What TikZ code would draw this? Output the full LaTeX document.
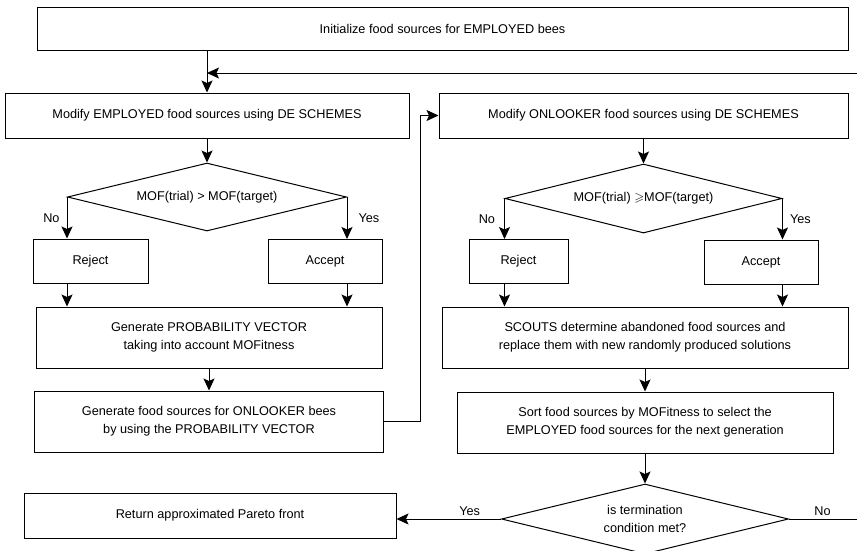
\documentclass[tikz,border=0pt]{standalone}
\usepackage{amssymb}
\usepackage{fontspec}
\setmainfont{Liberation Sans}
\usetikzlibrary{
    arrows.meta,
    positioning,
    shapes.geometric
}
\tikzset{
    procbox/.style  = {rectangle, draw=black, line width=1pt, align=center,
                       inner sep=2pt},
    decbox/.style   = {diamond, draw=black, line width=1pt, align=center,
                       aspect=4, inner sep=0pt},
    arrow/.style    = {-{Stealth[length=12pt,width=11pt,inset=2.5pt]}, line width=1pt},
    lbl/.style      = {inner sep=1pt}
}

\begin{document}
\begin{tikzpicture}[
   x = 1pt, y = -1pt,
   node distance = 22pt,
   every node/.append style = {font=\fontsize{12.7}{18}\selectfont}
]
\useasboundingbox (0,0) rectangle (857,550);
% employed bees
\node[procbox, minimum width=811pt, minimum height=43pt] (init) at (442.5,28.5)
   {Initialize food sources for EMPLOYED bees};
\node[procbox, minimum width=404pt, minimum height=45pt] (modemp) at (207,115.5)
   {Modify EMPLOYED food sources using DE SCHEMES};
\node[decbox, minimum width=279pt, minimum height=68pt, below=24pt of modemp] (cmp1)
   {MOF(trial) > MOF(target)};
\node[procbox, minimum width=115pt, minimum height=44pt] (rej1) at (90.5,261) {Reject};
\node[procbox, minimum width=114pt, minimum height=44pt] (acc1) at (325,261.5) {Accept};
\node[procbox, minimum width=346pt, minimum height=61pt] (prob) at (209,337.5)
   {Generate PROBABILITY VECTOR\\taking into account MOFitness};
\node[procbox, minimum width=349pt, minimum height=61pt, below=of prob] (genonl)
   {Generate food sources for ONLOOKER bees\\by using the PROBABILITY VECTOR};
% onlooker bees
\node[procbox, minimum width=409pt, minimum height=45pt] (modonl) at (643.5,115.5)
   {Modify ONLOOKER food sources using DE SCHEMES};
\node[decbox, minimum width=277pt, minimum height=69pt, below=25pt of modonl] (cmp2)
   {MOF(trial) $\geqslant$MOF(target)};
\node[procbox, minimum width=99pt, minimum height=44pt] (rej2) at (518.5,261.5) {Reject};
\node[procbox, minimum width=114pt, minimum height=44pt] (acc2) at (761,262) {Accept};
\node[procbox, minimum width=406pt, minimum height=61pt] (scouts) at (645,337.5)
   {SCOUTS determine abandoned food sources and\\replace them with new randomly produced solutions};
\node[procbox, minimum width=376pt, minimum height=61pt, below=23pt of scouts] (sort)
   {Sort food sources by MOFitness to select the\\EMPLOYED food sources for the next generation};
\node[decbox, minimum width=287pt, minimum height=70pt, below=30pt of sort] (term)
   {is termination\\condition met?};
\node[procbox, minimum width=372pt, minimum height=45pt] (ret) at (210,515.5)
   {Return approximated Pareto front};
\coordinate (fbin) at (207,73);
% connectors
\draw[arrow] (init.south -| modemp.north) -- (modemp.north);
\foreach \a/\b in {modemp/cmp1,prob/genonl,modonl/cmp2,scouts/sort,sort/term}
   \draw[arrow] (\a.south) -- (\b.north);
\draw[arrow] (cmp1.west) -- node[lbl, left=6pt] {No} (cmp1.west |- rej1.north);
\draw[arrow] (cmp1.east) -- node[lbl, right=10pt] {Yes} (cmp1.east |- acc1.north);
\draw[arrow] (cmp2.west) -- node[lbl, left=8pt] {No} (cmp2.west |- rej2.north);
\draw[arrow] (cmp2.east) -- node[lbl, right=6pt] {Yes} (cmp2.east |- acc2.north);
\foreach \d/\b/\t in {cmp1.west/rej1/prob,cmp1.east/acc1/prob,
                      cmp2.west/rej2/scouts,cmp2.east/acc2/scouts}
   \draw[arrow] (\b.south -| \d) -- (\t.north -| \d);
\draw[arrow] (genonl.east) -- ++(36,0) |- (modonl.west);
\draw[arrow] (term.west) -- node[lbl, above=2pt, pos=0.3] {Yes} (term.west -| ret.east);
\draw[arrow] (term.east) -- node[lbl, above=2pt, pos=0.42] {No} ++(80,0) |- (fbin);
\end{tikzpicture}
\end{document}
